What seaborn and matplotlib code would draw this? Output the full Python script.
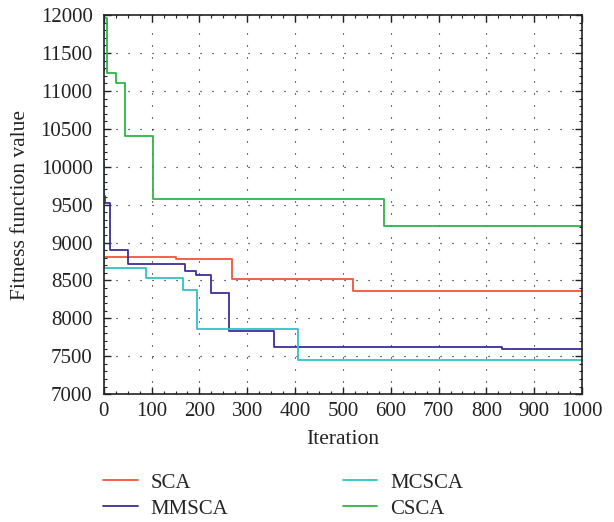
import numpy as np
import pandas as pd
import matplotlib
matplotlib.use("Agg")
import matplotlib.pyplot as plt
import seaborn as sns
from matplotlib.ticker import MultipleLocator

series_names = ["SCA", "MMSCA", "MCSCA", "CSCA"]
sca_x = [0, 151, 268, 522, 1000]
sca_y = [8807, 8785, 8520, 8362, 8362]
mmsca_x = [0, 3, 14, 51, 169, 193, 225, 262, 355, 833, 1000]
mmsca_y = [9610, 9526, 8895, 8719, 8630, 8578, 8330, 7827, 7628, 7592, 7592]
mcsca_x = [0, 1, 89, 165, 194, 407, 1000]
mcsca_y = [10055, 8666, 8529, 8370, 7854, 7453, 7453]
csca_x = [0, 6, 26, 44, 103, 585, 1000]
csca_y = [11960, 11237, 11100, 10407, 9574, 9212, 9212]
colors = {"SCA": "#F2543A", "MMSCA": "#3B2F9B", "MCSCA": "#2EC3C0", "CSCA": "#2DB54A"}

frames = []
for name, xs, ys in [("SCA", sca_x, sca_y), ("MMSCA", mmsca_x, mmsca_y),
                     ("MCSCA", mcsca_x, mcsca_y), ("CSCA", csca_x, csca_y)]:
    frames.append(pd.DataFrame({"Iteration": xs, "Value": ys, "Algorithm": name}))
df = pd.concat(frames, ignore_index=True)

sns.set_style("ticks")
plt.rcParams["font.family"] = ["Liberation Serif", "DejaVu Serif"]
plt.rcParams["xtick.direction"] = "in"
plt.rcParams["ytick.direction"] = "in"

fig = plt.figure(figsize=(6.14, 5.22), dpi=100)
ax = fig.add_axes([0.169, 0.245, 0.779, 0.726])

sns.lineplot(data=df, x="Iteration", y="Value", hue="Algorithm", hue_order=series_names,
             palette=colors, drawstyle="steps-post", linewidth=1.3, ax=ax,
             estimator=None, sort=True, legend=True)

ax.set_xlim(0, 1000)
ax.set_ylim(7000, 12000)
ax.xaxis.set_major_locator(MultipleLocator(100))
ax.xaxis.set_minor_locator(MultipleLocator(25))
ax.yaxis.set_major_locator(MultipleLocator(500))
ax.yaxis.set_minor_locator(MultipleLocator(100))
ax.tick_params(which="both", top=True, right=True, direction="in", colors="#222222",
               labelsize=15)
ax.tick_params(which="major", length=5, width=1)
ax.tick_params(which="minor", length=2.5, width=0.8)
ax.tick_params(axis="x", which="major", pad=6)
ax.tick_params(axis="y", which="major", pad=8)
ax.grid(True, which="major", color="black", linestyle=(0, (1, 9.8)), linewidth=0.8)
for s in ax.spines.values():
    s.set_color("#222222")
    s.set_linewidth(1.2)

ax.set_xlabel("Iteration", fontsize=15.5, color="#222222", labelpad=6.5)
ax.set_ylabel("Fitness function value", fontsize=15.5, color="#222222", labelpad=8)

handles, labels = ax.get_legend_handles_labels()
ax.get_legend().remove()
fig.legend(handles, labels, ncol=2, loc="center left", bbox_to_anchor=(0.168, 0.050),
           frameon=False, fontsize=15, handlelength=1.65, columnspacing=5.5,
           labelspacing=0.3, handletextpad=0.62, borderpad=0, borderaxespad=0)

fig.savefig("out.png", dpi=100)
